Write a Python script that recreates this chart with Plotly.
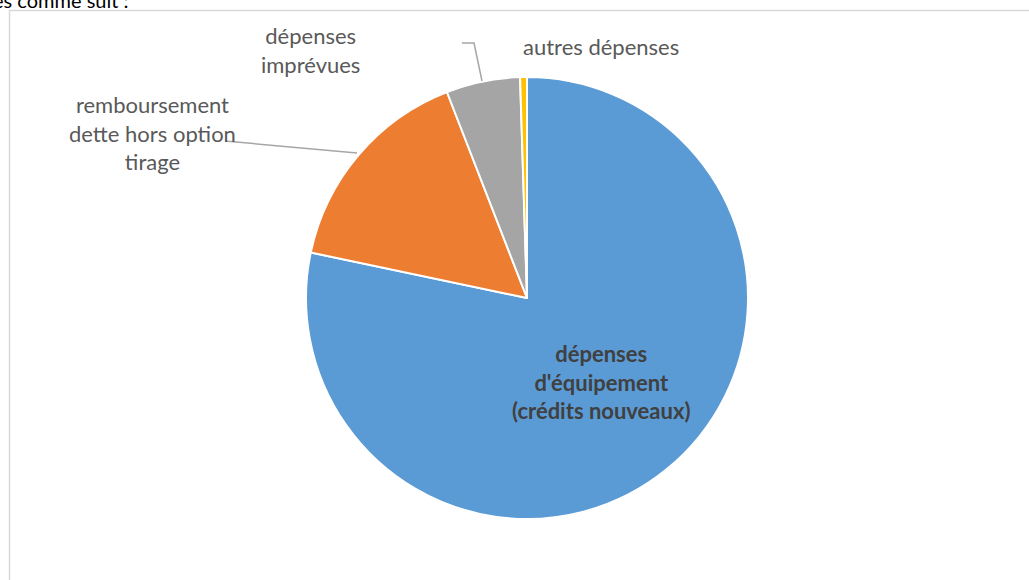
import plotly.graph_objects as go

W, H = 1029, 580

labels = ["dépenses d'équipement (crédits nouveaux)",
          "remboursement dette hors option tirage",
          "dépenses imprévues",
          "autres dépenses"]
values = [78.3, 15.8, 5.4, 0.5]
colors = ["#5B9BD5", "#ED7D31", "#A5A5A5", "#FFC000"]

def px(x):
    return x / W

def py(y):
    return 1 - y / H

cx, cy, r = 527, 298, 221

fig = go.Figure(go.Pie(
    labels=labels, values=values, sort=False, direction="clockwise", rotation=0,
    marker=dict(colors=colors, line=dict(color="white", width=2)),
    textinfo="none", hoverinfo="label+percent", showlegend=False,
    domain=dict(x=[px(cx - r), px(cx + r)], y=[py(cy + r), py(cy - r)]),
))

gray_txt = "#595959"
font_name = "Lato"

annots = [
    dict(text="dépenses<br>d'équipement<br>(crédits nouveaux)", x=px(601), y=py(382),
         font=dict(family=font_name, size=22, color="#404040", weight="bold")),
    dict(text="remboursement<br>dette hors option<br>tirage", x=px(152), y=py(133),
         font=dict(family=font_name, size=22, color=gray_txt)),
    dict(text="dépenses<br>imprévues", x=px(310), y=py(50),
         font=dict(family=font_name, size=22, color=gray_txt)),
    dict(text="autres dépenses", x=px(601), y=py(46),
         font=dict(family=font_name, size=22, color=gray_txt)),
]
for a in annots:
    fig.add_annotation(xref="paper", yref="paper", showarrow=False,
                       xanchor="center", yanchor="middle", align="center",
                       **a)

# clipped heading text from the surrounding document
fig.add_annotation(text="es comme suit :", xref="paper", yref="paper",
                   x=px(131), y=py(0), xanchor="right", yanchor="middle",
                   showarrow=False, font=dict(family=font_name, size=20, color="#000000"))

# leader lines
fig.add_shape(type="line", xref="paper", yref="paper",
              x0=px(225), y0=py(141), x1=px(357), y1=py(153),
              line=dict(color="#A6A6A6", width=1.5))
fig.add_shape(type="path", xref="paper", yref="paper",
              path=f"M {px(462)} {py(43)} L {px(474)} {py(43)} L {px(482)} {py(81)}",
              line=dict(color="#A6A6A6", width=1.5))

# chart frame
fig.add_shape(type="rect", xref="paper", yref="paper",
              x0=px(9.5), y0=py(600), x1=px(1040), y1=py(10.5),
              line=dict(color="#D9D9D9", width=1.5), fillcolor="rgba(0,0,0,0)")

fig.update_layout(width=W, height=H, margin=dict(l=0, r=0, t=0, b=0),
                  paper_bgcolor="white", plot_bgcolor="white")

fig.write_html("out.html")
